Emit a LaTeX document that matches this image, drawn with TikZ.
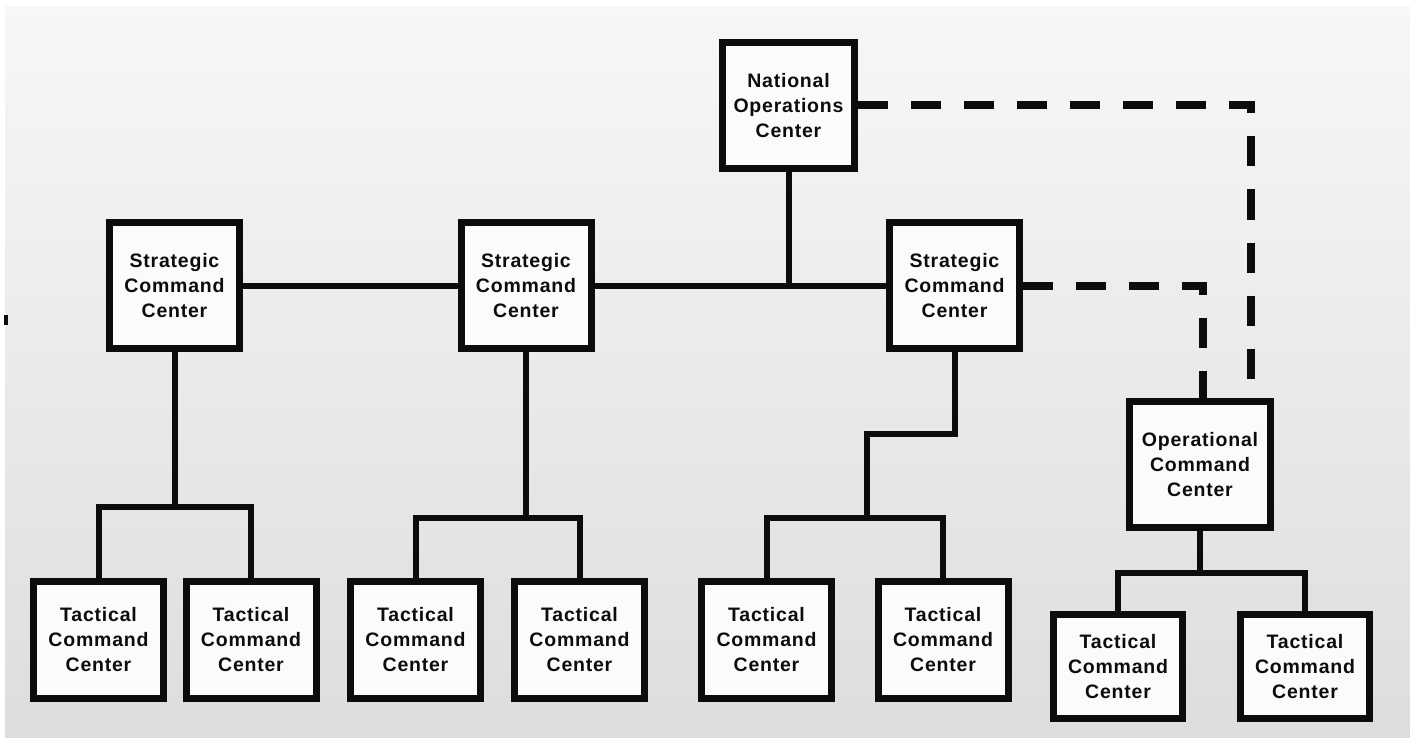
\documentclass[tikz,border=0pt]{standalone}
\usepackage{fontspec}
\newfontfamily\boxfont{Liberation Sans}[LetterSpace=4]
\usetikzlibrary{calc}
\definecolor{bgtop}{RGB}{247,247,247}
\definecolor{bgbot}{RGB}{221,221,221}
\definecolor{boxfill}{RGB}{251,252,250}
\definecolor{ink}{RGB}{12,12,10}
\begin{document}
\begin{tikzpicture}[x=1pt,y=-1pt,
  unit/.style={draw=ink,fill=boxfill,line width=7pt,align=center,inner sep=0pt,
    font=\boxfont\bfseries\fontsize{19.5}{25}\selectfont,text=ink},
  strat/.style={unit,minimum width=130pt,minimum height=126pt},
  tact/.style={unit,minimum width=130pt,minimum height=117pt},
  tactsm/.style={unit,minimum width=129pt,minimum height=104pt},
  link/.style={draw=ink,line width=6pt},
  dashlink/.style={draw=ink,line width=8pt,dash pattern=on 30pt off 23pt}]
\useasboundingbox (0,0) rectangle (1410,738);
% page background
\fill[white] (0,0) rectangle (1410,738);
\shade[top color=bgtop,bottom color=bgbot] (5,7) rectangle (1410,738);
\fill[ink] (4,315) rectangle (8,325);

% command centres
\node[unit,minimum width=132pt,minimum height=126pt] (noc) at (788.5,105.5)
  {National\\Operations\\Center};
\node[strat] (s1) at (174.5,285.5) {Strategic\\Command\\Center};
\node[strat] (s2) at (526,285.5) {Strategic\\Command\\Center};
\node[strat] (s3) at (954.5,285.5) {Strategic\\Command\\Center};
\node[unit,minimum width=141pt,minimum height=126pt] (ops) at (1200,464.5)
  {Operational\\Command\\Center};

\node[tact] (t1) at (98.5,640) {Tactical\\Command\\Center};
\node[tact] (t2) at (251,640) {Tactical\\Command\\Center};
\node[tact] (t3) at (415.5,640) {Tactical\\Command\\Center};
\node[tact] (t4) at (579.5,640) {Tactical\\Command\\Center};
\node[tact] (t5) at (766.5,640) {Tactical\\Command\\Center};
\node[tact] (t6) at (943,640) {Tactical\\Command\\Center};
\node[tactsm] (t7) at (1118,666.5) {Tactical\\Command\\Center};
\node[tactsm] (t8) at (1305,666.5) {Tactical\\Command\\Center};

% solid links
\draw[link] (s1.east) -- (s2.west);
\draw[link] (s2.east) -- (s3.west);
\draw[link] (noc.south) -- (noc.south |- s2.east);

\coordinate (bar1) at (174.5,507);
\draw[link] (s1.south) -- (bar1);
\draw[link] (t1.north) |- (bar1) -| (t2.north);

\coordinate (bar2) at (526,518);
\draw[link] (s2.south) -- (bar2);
\draw[link] (t3.north) |- (bar2) -| (t4.north);

\coordinate (jog) at (867,434);
\coordinate (bar3) at (867,518);
\draw[link] (s3.south) |- (jog) -- (bar3);
\draw[link] (t5.north) |- (bar3) -| (t6.north);

\coordinate (bar4) at (1200,573);
\draw[link] (ops.south) -- (bar4);
\draw[link] (t7.north) |- (bar4) -| (t8.north);

% dashed links to the operational centre
\draw[dashlink] (noc.east) -| ($(ops.north)+(51,0)$);
\draw[dashlink] (s3.east) -| ($(ops.north)+(3,0)$);
\end{tikzpicture}
\end{document}
